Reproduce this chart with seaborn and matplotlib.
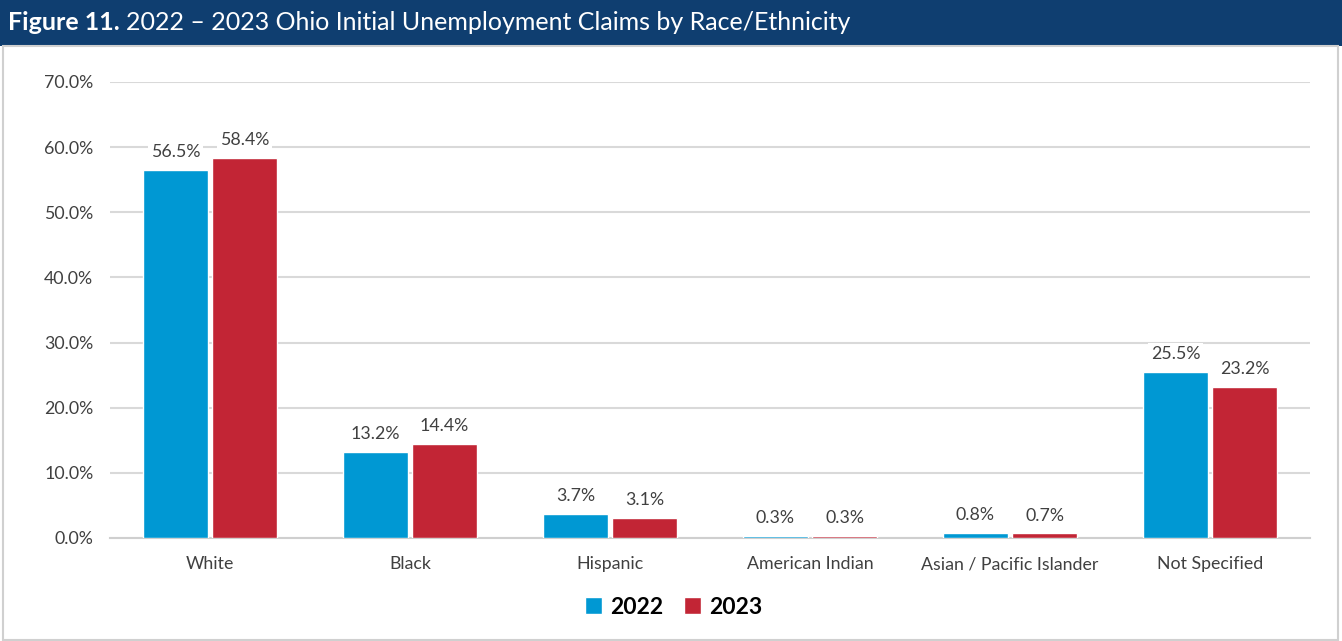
import matplotlib
matplotlib.use("Agg")
import matplotlib.pyplot as plt
from matplotlib.patches import Rectangle
import seaborn as sns
import pandas as pd

categories = ["White", "Black", "Hispanic", "American Indian",
              "Asian / Pacific Islander", "Not Specified"]
claims_2022 = [56.5, 13.2, 3.7, 0.3, 0.8, 25.5]
claims_2023 = [58.4, 14.4, 3.1, 0.3, 0.7, 23.2]
years = ["2022", "2023"]
y_ticks = [0, 10, 20, 30, 40, 50, 60, 70]

df = pd.DataFrame({
    "category": categories * 2,
    "year": [years[0]] * len(categories) + [years[1]] * len(categories),
    "share": claims_2022 + claims_2023,
})

sns.set_theme(style="white")
plt.rcParams["font.family"] = ["Lato", "DejaVu Sans"]

BLUE = "#0098D3"
RED = "#C22535"
NAVY = "#0F3E70"
GRID = "#D9D9D9"
TEXT = "#404040"
W, H = 1342, 641

fig = plt.figure(figsize=(W / 100, H / 100), dpi=100)

# header band and frame
fig.patches.append(Rectangle((0, 1 - 46 / H), 1, 46 / H, transform=fig.transFigure,
                             facecolor=NAVY, edgecolor="none", zorder=0))
fig.patches.append(Rectangle((3 / W, 0.002), 1335 / W, 1 - 46 / H - 0.002,
                             transform=fig.transFigure, facecolor="none",
                             edgecolor="#D0D0D0", linewidth=1.5, zorder=0))
head = fig.text(8 / W, 1 - 23 / H, "Figure 11.", color="white", fontsize=18,
                fontweight="bold", va="center", ha="left")
renderer = fig.canvas.get_renderer()
bb = head.get_window_extent(renderer=renderer)
fig.text((bb.x1 + 6) / W, 1 - 23 / H,
         "2022 \u2013 2023 Ohio Initial Unemployment Claims by Race/Ethnicity",
         color="white", fontsize=18, va="center", ha="left")

ax = fig.add_axes([110 / W, 103 / H, 1200 / W, 456 / H])
sns.barplot(data=df, x="category", y="share", hue="year", order=categories,
            hue_order=years, palette=[BLUE, RED], width=0.69, gap=0.06,
            saturation=1, ax=ax, legend=True)
for bar in ax.patches:
    bar.set_zorder(3)

ax.set_xlim(-0.5, len(categories) - 0.5)
ax.set_ylim(0, 70)
ax.set_yticks(y_ticks)
ax.set_yticklabels([f"{t:.1f}%" for t in y_ticks])
ax.yaxis.grid(True, color=GRID, linewidth=1.5)
ax.set_axisbelow(True)
for side in ["top", "right", "left"]:
    ax.spines[side].set_visible(False)
ax.spines["bottom"].set_color("#CFCFCF")
ax.spines["bottom"].set_linewidth(1.5)
ax.spines["bottom"].set_zorder(2)
ax.set_xlabel("")
ax.set_ylabel("")
ax.tick_params(axis="y", labelsize=12.8, labelcolor=TEXT, pad=12, length=0)
ax.tick_params(axis="x", labelsize=12.8, labelcolor=TEXT, pad=13, length=0)

for container in ax.containers:
    texts = ax.bar_label(container, fmt="%.1f%%", padding=7, fontsize=12.8, color=TEXT)
    for t in texts:
        t.set_bbox(dict(facecolor="white", edgecolor="none", pad=2))
        t.set_zorder(4)

handles, labels = ax.get_legend_handles_labels()
ax.legend_.remove()
fig.legend(handles, labels, loc="center", bbox_to_anchor=(674 / W, 1 - 607 / H),
           ncol=2, frameon=False, handlelength=0.75, handleheight=0.75,
           handletextpad=0.35, columnspacing=0.9, labelcolor="black",
           prop={"size": 16.5, "weight": "bold"})

fig.savefig("out.png", dpi=100)
